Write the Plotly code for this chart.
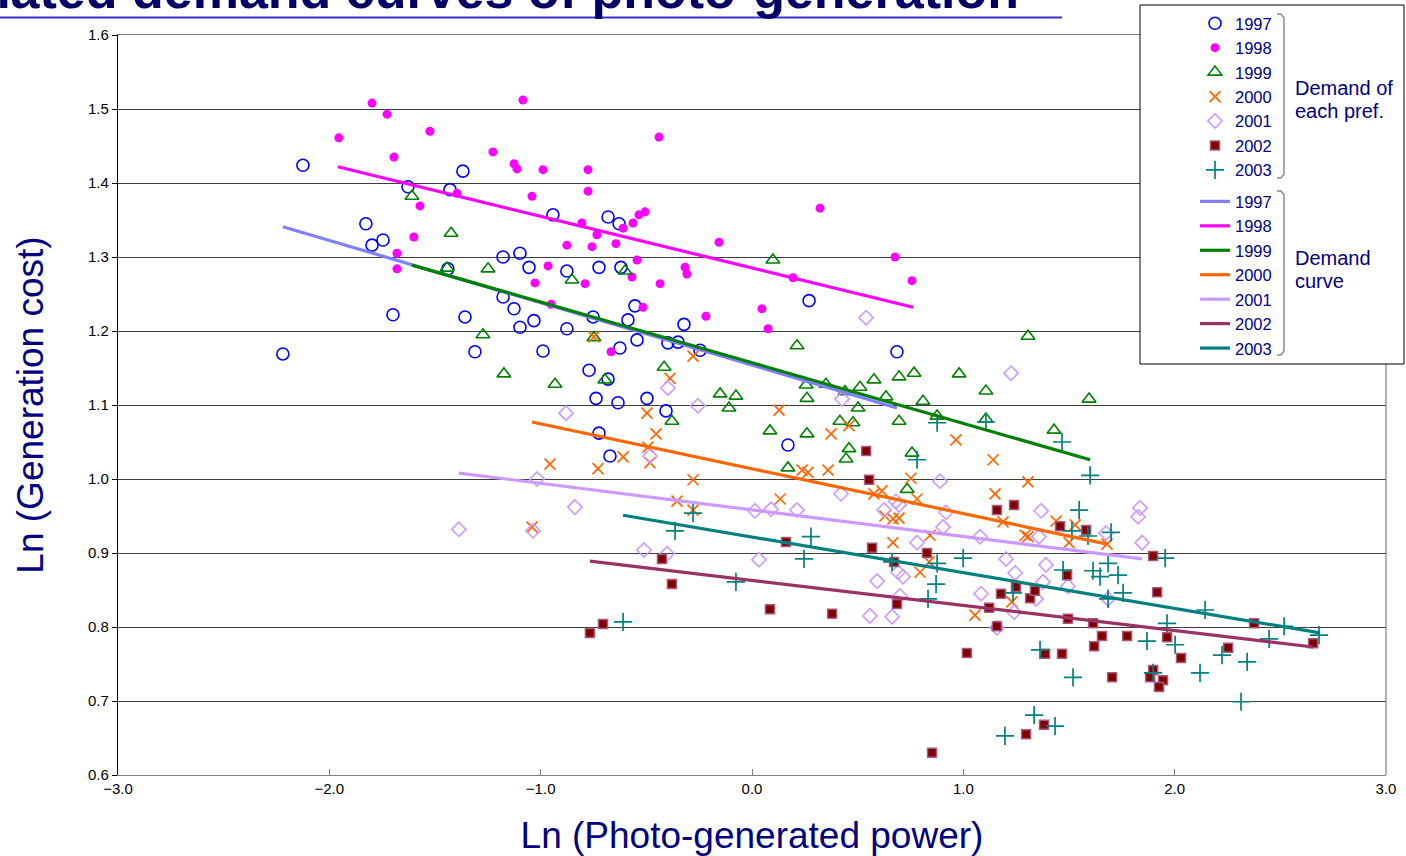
import plotly.graph_objects as go

FONT = "Liberation Sans, Arial, sans-serif"
NAVY = "#000080"

years = ["1997", "1998", "1999", "2000", "2001", "2002", "2003"]

# ---------------- data: ln(photo-generated power), ln(generation cost) ----------------
x1997 = [-2.125, -2.220, -1.827, -1.746, -1.798, -1.699, -1.368, -1.628, -1.429, -1.439, -1.358, -1.311,
         -1.178, -1.098, -1.055, -1.178, -1.126, -1.032, -1.098, -0.989, -0.942, -0.681, -0.629, -0.876,
         -0.724, -0.620, -0.554, -0.587, -0.752, -0.876, -0.544, -0.625, -0.771, -0.398, -0.350, -0.322,
         -0.246, 0.270, -0.681, -0.738, -0.634, -0.497, -0.407, -0.724, -0.672, 0.170, 0.686]
y1997 = [1.424, 1.169, 1.345, 1.323, 1.316, 1.222, 1.416, 1.395, 1.391, 1.284, 1.219, 1.172,
         1.300, 1.305, 1.286, 1.246, 1.230, 1.214, 1.205, 1.173, 1.357, 1.354, 1.345, 1.281,
         1.286, 1.286, 1.234, 1.215, 1.219, 1.203, 1.188, 1.177, 1.147, 1.184, 1.185, 1.209,
         1.174, 1.241, 1.135, 1.109, 1.103, 1.109, 1.092, 1.062, 1.031, 1.046, 1.172]

x1998 = [-1.955, -1.798, -1.727, -1.524, -1.694, -1.571, -1.600, -1.680, -1.680, -1.396, -1.226, -1.084,
         -1.126, -1.112, -0.989, -1.041, -0.965, -1.027, -0.951, -0.776, -0.776, -0.440, -0.805, -0.535,
         -0.506, -0.563, -0.610, -0.734, -0.876, -0.757, -0.644, -0.156, -0.544, -0.317, -0.308, -0.790,
         -0.568, -0.435, 0.194, -0.516, -0.218, 0.047, 0.076, -0.667, 0.322, 0.677, 0.757]
y1998 = [1.461, 1.508, 1.493, 1.470, 1.435, 1.369, 1.327, 1.305, 1.284, 1.386, 1.442, 1.512,
         1.426, 1.419, 1.418, 1.382, 1.288, 1.265, 1.236, 1.418, 1.389, 1.462, 1.346, 1.357,
         1.361, 1.346, 1.339, 1.330, 1.316, 1.314, 1.318, 1.320, 1.296, 1.286, 1.277, 1.264,
         1.273, 1.264, 1.272, 1.232, 1.220, 1.230, 1.203, 1.172, 1.366, 1.300, 1.268]

x1999 = [-1.609, -1.424, -1.443, -1.249, -1.273, -1.174, -0.852, -0.601, 0.099, -0.748, -0.416, 0.213,
         -0.696, -0.379, -0.151, -0.076, -0.109, 0.256, 0.260, 0.350, 0.440, 0.511, 0.577, 0.696,
         0.767, 0.634, 0.502, 0.416, 0.478, 0.696, 0.085, 0.260, 0.459, 0.445, 0.170, 0.757,
         0.734, 1.306, 0.980, 1.107, 0.809, 0.876, 1.107, 1.595, 1.429, -0.932]
y1999 = [1.382, 1.332, 1.285, 1.284, 1.195, 1.142, 1.269, 1.281, 1.296, 1.191, 1.151, 1.180,
         1.134, 1.078, 1.115, 1.112, 1.096, 1.127, 1.109, 1.128, 1.118, 1.124, 1.134, 1.138,
         1.143, 1.111, 1.096, 1.078, 1.076, 1.078, 1.065, 1.061, 1.041, 1.027, 1.015, 1.035,
         0.986, 1.193, 1.142, 1.119, 1.105, 1.085, 1.081, 1.108, 1.066, 1.128]

x2000 = [-0.748, -0.279, -0.388, -0.497, -0.454, -0.610, -0.492, -0.483, -0.729, -0.279, 0.128, 0.374,
         0.459, 0.237, 0.265, 0.360, 0.752, 0.577, 0.615, -0.956, -1.041, -0.355, -0.279, 0.965,
         1.141, 0.133, 0.781, 1.150, 0.629, 0.667, 0.696, 0.667, 0.842, 0.795, 0.838, 1.055,
         1.306, 1.188, 1.292, 1.306, 1.439, 1.529, 1.500, 1.680, 1.230]
y2000 = [1.192, 1.166, 1.136, 1.089, 1.061, 1.030, 1.043, 1.022, 1.014, 0.999, 1.093, 1.061,
         1.072, 1.012, 1.009, 1.012, 1.001, 0.980, 0.984, 1.020, 0.935, 0.970, 0.958, 1.053,
         1.026, 0.973, 0.973, 0.980, 0.950, 0.946, 0.947, 0.914, 0.924, 0.874, 0.888, 0.816,
         0.996, 0.942, 0.924, 0.922, 0.943, 0.938, 0.914, 0.912, 0.834]

x2001 = [0.426, 0.540, 1.226, -0.398, -0.256, -0.880, -1.017, -1.387, -1.036, -0.838, -0.511, -0.402,
         -0.483, 0.014, 0.090, 0.213, 0.033, 0.421, 0.625, 0.681, 0.696, 0.890, 0.918, 0.904,
         0.781, 1.079, 0.592, 0.691, 0.715, 0.700, 1.084, 0.558, 0.663, 1.159, 1.368, 1.358,
         1.675, 1.836, 1.827, 1.846, 1.202, 1.245, 1.391, 1.377, 1.495, 1.685, 1.344, 1.240]
y2001 = [1.108, 1.218, 1.143, 1.123, 1.099, 1.089, 1.000, 0.932, 0.930, 0.962, 0.904, 0.899,
         1.031, 0.957, 0.959, 0.958, 0.891, 0.980, 0.958, 0.970, 0.965, 0.997, 0.955, 0.935,
         0.914, 0.922, 0.862, 0.874, 0.868, 0.842, 0.845, 0.815, 0.814, 0.799, 0.957, 0.922,
         0.927, 0.961, 0.949, 0.914, 0.892, 0.873, 0.884, 0.861, 0.855, 0.838, 0.838, 0.820]

x2002 = [0.540, 0.554, -0.426, -0.379, -0.767, -0.705, 0.161, 0.568, 0.828, 0.686, 0.085, 0.379,
         0.672, 0.852, 1.159, 1.240, 1.458, 1.581, 1.491, 1.178, 1.249, 1.316, 1.339, 1.122,
         1.159, 1.495, 1.614, 1.656, 1.619, 1.775, 1.898, 1.917, 1.964, 2.030, 1.017, 1.387,
         1.467, 1.704, 1.898, 1.884, 1.945, 1.926, 1.382, 1.297, 2.376, 2.253, 2.655]
y2002 = [1.038, 0.999, 0.892, 0.858, 0.792, 0.804, 0.915, 0.907, 0.900, 0.831, 0.824, 0.818,
         0.888, 0.630, 0.958, 0.965, 0.936, 0.931, 0.870, 0.845, 0.854, 0.839, 0.849, 0.826,
         0.801, 0.811, 0.805, 0.788, 0.774, 0.788, 0.896, 0.847, 0.786, 0.758, 0.765, 0.764,
         0.764, 0.732, 0.742, 0.732, 0.728, 0.719, 0.668, 0.655, 0.805, 0.772, 0.778]

x2003 = [-0.279, -0.364, -0.610, 0.876, 1.107, 0.781, 0.279, 0.246, -0.076, 0.663, 0.876, 0.999,
         0.871, 0.833, 1.467, 1.600, 1.548, 1.514, 1.590, 1.699, 1.685, 1.732, 1.756, 1.614,
         1.647, 1.472, 1.235, 1.685, 1.363, 1.519, 1.869, 2.002, 1.898, 1.964, 1.955, 2.120,
         1.335, 1.197, 1.434, 2.144, 2.224, 2.343, 2.447, 2.518, 2.683, 2.314]
y2003 = [0.954, 0.930, 0.807, 1.076, 1.077, 1.026, 0.922, 0.892, 0.861, 0.888, 0.886, 0.893,
         0.858, 0.838, 1.050, 1.005, 0.958, 0.930, 0.923, 0.928, 0.886, 0.870, 0.846, 0.876,
         0.868, 0.877, 0.846, 0.838, 0.769, 0.732, 0.781, 0.776, 0.738, 0.805, 0.893, 0.738,
         0.681, 0.653, 0.666, 0.823, 0.762, 0.753, 0.784, 0.801, 0.789, 0.699]

points_x = [x1997, x1998, x1999, x2000, x2001, x2002, x2003]
points_y = [y1997, y1998, y1999, y2000, y2001, y2002, y2003]

# demand curves (straight fits): start / end of each
curve_x_start = [-2.220, -1.960, -1.609, -1.041, -1.387, -0.767, -0.610]
curve_x_end = [0.686, 0.762, 1.600, 1.680, 1.846, 2.655, 2.688]
curve_y_start = [1.341, 1.422, 1.289, 1.077, 1.008, 0.889, 0.951]
curve_y_end = [1.096, 1.232, 1.026, 0.912, 0.892, 0.773, 0.792]

x_ticks = [-3, -2, -1, 0, 1, 2, 3]
y_ticks = [0.6, 0.7, 0.8, 0.9, 1.0, 1.1, 1.2, 1.3, 1.4, 1.5, 1.6]

# ---------------- styles ----------------
marker_styles = [
    dict(symbol="circle-open", size=12, color="#0000FF", line=dict(width=1.6, color="#0000FF")),
    dict(symbol="circle", size=9, color="#FF00FF", line=dict(width=0)),
    dict(symbol="triangle-up-open", size=12, color="#008000", line=dict(width=1.6, color="#008000")),
    dict(symbol="x-thin-open", size=11, color="#FF6600", line=dict(width=1.7, color="#FF6600")),
    dict(symbol="diamond-open", size=11, color="#CC99FF", line=dict(width=1.6, color="#CC99FF")),
    dict(symbol="square", size=9, color="#800000", line=dict(width=1.5, color="#A8587C")),
    dict(symbol="cross-thin-open", size=13, color="#008080", line=dict(width=1.7, color="#008080")),
]
line_colors = ["#8080FF", "#FF00FF", "#008000", "#FF6600", "#CC99FF", "#993366", "#008080"]

fig = go.Figure()

for i, yr in enumerate(years):
    fig.add_trace(go.Scatter(
        x=points_x[i], y=points_y[i], mode="markers", name=yr,
        marker=marker_styles[i], legendgroup="points", showlegend=True,
    ))

for i, yr in enumerate(years):
    fig.add_trace(go.Scatter(
        x=[curve_x_start[i], curve_x_end[i]], y=[curve_y_start[i], curve_y_end[i]],
        mode="lines", name=yr, line=dict(color=line_colors[i], width=3.2),
        legendgroup="curves", showlegend=True,
    ))

W, H = 1406, 856
L, R, T, B = 118, 1386, 35, 775          # plot area in pixels
def px_x(p):
    return (p - L) / (R - L)
def px_y(p):
    return (B - p) / (B - T)

shapes = [
    dict(type="line", xref="paper", yref="paper", x0=1, x1=1, y0=0, y1=1,
         line=dict(color="#808080", width=1.2), layer="above"),
    dict(type="rect", xref="paper", yref="paper", x0=px_x(1140), x1=px_x(1404),
         y0=px_y(364), y1=px_y(5), fillcolor="white", line=dict(color="black", width=1), layer="above"),
    dict(type="line", xref="paper", yref="paper", x0=px_x(0), x1=px_x(1062),
         y0=px_y(17.5), y1=px_y(17.5), line=dict(color="#3333CC", width=2)),
]

def bracket(top, bottom, xline=1284, xend=1277):
    return dict(type="path", xref="paper", yref="paper", layer="above",
                path=(f"M {px_x(xend)},{px_y(top)} L {px_x(xline-3)},{px_y(top)} "
                      f"L {px_x(xline)},{px_y(top+4)} L {px_x(xline)},{px_y(bottom-4)} "
                      f"L {px_x(xline-3)},{px_y(bottom)} L {px_x(xend)},{px_y(bottom)}"),
                line=dict(color="#8C8C8C", width=1.5))

shapes.append(bracket(14, 178))
shapes.append(bracket(191, 355))

annotations = [
    dict(text="<b>Estimated demand curves of photo-generation</b>", xref="paper", yref="paper",
         x=px_x(1021), y=px_y(21), xanchor="right", yanchor="bottom", showarrow=False,
         font=dict(family=FONT, size=52, color="#000066")),
]
for txt, yy in [("Demand of", 88), ("each pref.", 111), ("Demand", 258), ("curve", 281)]:
    annotations.append(dict(text=txt, xref="paper", yref="paper", x=px_x(1293), y=px_y(yy),
                            xanchor="left", yanchor="middle", showarrow=False,
                            font=dict(family=FONT, size=20, color=NAVY)))

fig.update_layout(
    width=W, height=H,
    margin=dict(l=L, r=W - R, t=T, b=H - B, autoexpand=False),
    paper_bgcolor="white", plot_bgcolor="white",
    font=dict(family=FONT, size=15, color="black"),
    showlegend=True,
    legend=dict(x=px_x(1195), y=px_y(6), xanchor="left", yanchor="top",
                bgcolor="rgba(0,0,0,0)", borderwidth=0, tracegroupgap=7,
                font=dict(family=FONT, size=16.5, color=NAVY)),
    shapes=shapes, annotations=annotations,
    xaxis=dict(range=[-3, 3], tickvals=x_ticks, tickformat=".1f", showgrid=False, zeroline=False,
               showline=True, linecolor="#808080", linewidth=1.2, mirror=True,
               ticks="inside", ticklen=6, tickcolor="#808080",
               tickfont=dict(family=FONT, size=15, color="black"),
               title=dict(text="Ln (Photo-generated power)", standoff=26,
                          font=dict(family=FONT, size=37, color=NAVY))),
    yaxis=dict(range=[0.6, 1.6], tickvals=y_ticks, tickformat=".1f", showgrid=True,
               gridcolor="#3C3C3C", gridwidth=1, zeroline=False,
               showline=True, linecolor="black", linewidth=1.2,
               ticks="outside", ticklen=5, tickcolor="black",
               tickfont=dict(family=FONT, size=15, color="black"),
               title=dict(text="Ln (Generation cost)", standoff=33,
                          font=dict(family=FONT, size=37, color=NAVY))),
)

fig.write_html("out.html", config={"displayModeBar": False},
               post_script="document.body.style.margin='0px';document.body.style.overflow='hidden';")
